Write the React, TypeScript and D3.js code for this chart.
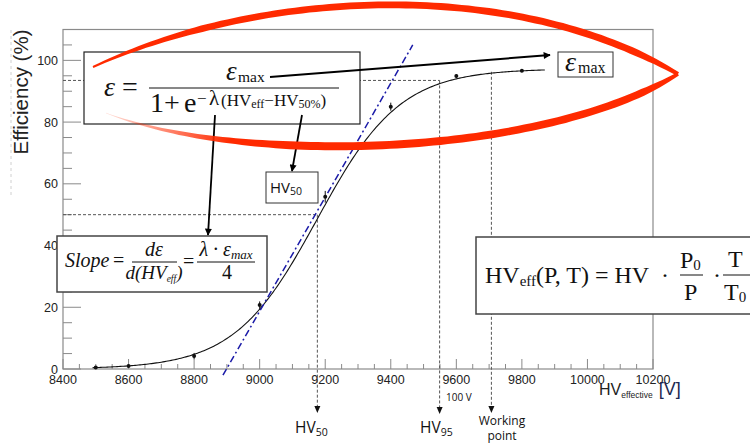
import React from "react";
import * as d3 from "d3";

// ---------- data ----------
const hvPoints = [8500, 8600, 8800, 9000, 9200, 9400, 9600, 9800];
const effPoints = [0.5, 1.0, 4.2, 20.7, 55.8, 85.0, 94.9, 96.6];
const effErrors = [0.3, 0.4, 1.0, 1.2, 1.9, 1.3, 0.6, 0.4];

const xTicks = [8400, 8600, 8800, 9000, 9200, 9400, 9600, 9800, 10000, 10200];
const yTicks = [0, 20, 40, 60, 80, 100];

// sigmoid fit shown in the chart
const fitEmax = 97.3;
const fitHv50 = 9176;
const fitLambda = 0.0079;
const fitRange = [8490, 9870];

// tangent (slope) line end points [HV, eff]
const tangentStart = [8888, -2];
const tangentEnd = [9467, 105];

// reference markers
const hv50 = 9176;
const eff50 = 50;
const hv95 = 9549;
const eff95 = 93.5;
const hvWorking = 9707;
const effWorking = 96.3;

// ---------- helpers ----------
type P = [number, number];
function cubic(p: P[], t: number): P {
  const u = 1 - t;
  return [
    u * u * u * p[0][0] + 3 * u * u * t * p[1][0] + 3 * u * t * t * p[2][0] + t * t * t * p[3][0],
    u * u * u * p[0][1] + 3 * u * u * t * p[1][1] + 3 * u * t * t * p[2][1] + t * t * t * p[3][1],
  ];
}
function cubicD(p: P[], t: number): P {
  const u = 1 - t;
  return [
    3 * u * u * (p[1][0] - p[0][0]) + 6 * u * t * (p[2][0] - p[1][0]) + 3 * t * t * (p[3][0] - p[2][0]),
    3 * u * u * (p[1][1] - p[0][1]) + 6 * u * t * (p[2][1] - p[1][1]) + 3 * t * t * (p[3][1] - p[2][1]),
  ];
}
function brush(p: P[], w: (t: number) => number, n = 90): string {
  const L: P[] = [];
  const R: P[] = [];
  for (let i = 0; i <= n; i++) {
    const t = i / n;
    const b = cubic(p, t);
    const d = cubicD(p, t);
    const len = Math.hypot(d[0], d[1]) || 1;
    const nx = -d[1] / len;
    const ny = d[0] / len;
    const hw = w(t) / 2;
    L.push([b[0] + nx * hw, b[1] + ny * hw]);
    R.push([b[0] - nx * hw, b[1] - ny * hw]);
  }
  const pts = L.concat(R.reverse());
  return "M" + pts.map((q) => q[0].toFixed(1) + "," + q[1].toFixed(1)).join("L") + "Z";
}

const W = 750;
const H = 447;

export default function App() {
  const x = d3.scaleLinear().domain([8400, 10200]).range([63, 653]);
  const y = d3.scaleLinear().domain([0, 110]).range([369, 29.5]);

  const fitLine = d3
    .line<number>()
    .x((v) => x(v))
    .y((v) => y(fitEmax / (1 + Math.exp(-fitLambda * (v - fitHv50)))))
    .curve(d3.curveLinear);
  const fitXs = d3.range(fitRange[0], fitRange[1] + 1, 5);

  const minorX = d3.range(8400, 10201, 50);
  const minorY = d3.range(0, 111, 5);

  const serif = "'Liberation Serif', 'Times New Roman', serif";
  const sans = "'Liberation Sans', Arial, sans-serif";
  const calib = "'Open Sans', 'Noto Sans', sans-serif";
  const dashCol = "#555";
  const axisCol = "#8a8a8a";

  const upperArc: P[] = [
    [93, 67],
    [260, -10],
    [510, -24],
    [678, 74],
  ];
  const lowerArc: P[] = [
    [106, 113],
    [240, 165],
    [538, 159],
    [678, 74],
  ];
  const upperW = (t: number) => (t < 0.2 ? 2 + (t / 0.2) * 4.5 : t > 0.92 ? 7 - ((t - 0.92) / 0.08) * 3 : 6.5 + (t - 0.2) * 0.7);
  const lowerW = (t: number) => (t < 0.35 ? 0.5 + (t / 0.35) * 7.5 : t > 0.92 ? 7.5 - ((t - 0.92) / 0.08) * 4 : 8 - (t - 0.35) * 1);

  const downArrow = (cx: number, tipY: number) => `M${cx - 3},${tipY - 7}L${cx + 3},${tipY - 7}L${cx},${tipY}Z`;

  return (
    <svg
      width={W}
      height={H}
      style={{ position: "absolute", left: 0, top: 0, background: "#fff" }}
      xmlns="http://www.w3.org/2000/svg"
    >
      <defs>
        <marker id="ah" viewBox="0 0 10 10" refX="9" refY="5" markerWidth="9" markerHeight="7" markerUnits="userSpaceOnUse" orient="auto">
          <path d="M0,0L10,5L0,10Z" fill="#000" />
        </marker>
        <linearGradient id="fadeL" gradientUnits="userSpaceOnUse" x1="106" y1="0" x2="230" y2="0">
          <stop offset="0" stopColor="#ff2a00" stopOpacity="0.15" />
          <stop offset="1" stopColor="#ff2a00" stopOpacity="1" />
        </linearGradient>
      </defs>

      {/* faint left guide */}
      <line x1={11} y1={30} x2={11} y2={195} stroke="#d0d0d0" strokeDasharray="3,3" />

      {/* frame */}
      <rect x={x(8400)} y={29.5} width={x(10200) - x(8400)} height={369 - 29.5} fill="none" stroke={axisCol} strokeWidth={1.2} />

      {/* y ticks */}
      {minorY.map((v) => (
        <line key={"my" + v} x1={x(8400)} x2={x(8400) + (v % 20 === 0 ? 18 : 9)} y1={y(v)} y2={y(v)} stroke={axisCol} strokeWidth={1} />
      ))}
      {yTicks.map((v) => (
        <text key={"yl" + v} x={58} y={y(v) + 4.5} textAnchor="end" fontFamily={sans} fontSize={12.5} fill="#222">
          {v}
        </text>
      ))}

      {/* x ticks */}
      {minorX.map((v) => (
        <line key={"mx" + v} x1={x(v)} x2={x(v)} y1={369} y2={369 - ((v - 8400) % 200 === 0 ? 10 : 5)} stroke={axisCol} strokeWidth={1} />
      ))}
      {xTicks.map((v) => (
        <text key={"xl" + v} x={x(v)} y={384} textAnchor="middle" fontFamily={sans} fontSize={12.5} fill="#222">
          {v}
        </text>
      ))}

      {/* axis titles */}
      <text transform="translate(28,92) rotate(-90)" textAnchor="middle" fontFamily={sans} fontSize={20.5} fill="#222">
        Efficiency (%)
      </text>
      <text x={599} y={395} fontFamily={sans} fontSize={16} fill="#222">
        HV
        <tspan fontSize={8.5} dy={3}>effective</tspan>
        <tspan fontSize={18} dy={-3} dx={6} fill="#1c2a52">[V]</tspan>
      </text>

      {/* dashed reference lines */}
      <g stroke={dashCol} strokeDasharray="3,2" strokeWidth={1} fill="none">
        <line x1={x(8400)} x2={x(hv50)} y1={y(eff50)} y2={y(eff50)} />
        <line x1={x(hv50)} x2={x(hv50)} y1={y(eff50)} y2={406} />
        <line x1={x(8400)} x2={x(hv95)} y1={y(eff95)} y2={y(eff95)} />
        <line x1={x(hv95)} x2={x(hv95)} y1={y(eff95)} y2={407} />
        <line x1={x(hvWorking)} x2={x(hvWorking)} y1={y(effWorking)} y2={406} />
      </g>
      <path d={downArrow(x(hv50), 413)} fill="#111" />
      <path d={downArrow(x(hv95), 414)} fill="#111" />
      <path d={downArrow(x(hvWorking), 413)} fill="#111" />

      {/* fit curve */}
      <path d={fitLine(fitXs) || ""} fill="none" stroke="#111" strokeWidth={1.1} />

      {/* tangent */}
      <line
        x1={x(tangentStart[0])}
        y1={y(tangentStart[1])}
        x2={x(tangentEnd[0])}
        y2={y(tangentEnd[1])}
        stroke="#1b1ba8"
        strokeWidth={1.5}
        strokeDasharray="7,3,2,3"
      />

      {/* data points */}
      {hvPoints.map((hv, i) => (
        <g key={"p" + hv}>
          <line x1={x(hv)} x2={x(hv)} y1={y(effPoints[i] - effErrors[i])} y2={y(effPoints[i] + effErrors[i])} stroke="#111" strokeWidth={1} />
          <circle cx={x(hv)} cy={y(effPoints[i])} r={2} fill="#111" />
        </g>
      ))}

      {/* labels under the axis */}
      <text x={295} y={433} fontFamily={calib} fontSize={15.5} fill="#111">
        HV<tspan fontSize={10.5} dy={3}>50</tspan>
      </text>
      <text x={420} y={433} fontFamily={calib} fontSize={15.5} fill="#111">
        HV<tspan fontSize={10.5} dy={3}>95</tspan>
      </text>
      <text x={446} y={401} fontFamily={calib} fontSize={10} fill="#111">
        100 V
      </text>
      <text x={502} y={425} textAnchor="middle" fontFamily={calib} fontSize={12} fill="#111">
        Working
      </text>
      <text x={502} y={440} textAnchor="middle" fontFamily={calib} fontSize={12} fill="#111">
        point
      </text>

      {/* main formula box */}
      <rect x={84} y={52} width={276} height={72} fill="#fff" stroke="#222" strokeWidth={1.2} />
      <text x={104} y={96} fontFamily={serif} fontSize={28} fontStyle="italic" fill="#111">ε</text>
      <text x={122} y={96} fontFamily={serif} fontSize={28} fill="#111">=</text>
      <line x1={149} x2={339} y1={88} y2={88} stroke="#111" strokeWidth={1} />
      <text x={226} y={80} fontFamily={serif} fontSize={27} fontStyle="italic" fill="#111">ε</text>
      <text x={238} y={82} fontFamily={serif} fontSize={15.5} fill="#111">max</text>
      <text x={150} y={112} fontFamily={serif} fontSize={28} fill="#111">1</text>
      <text x={164} y={112} fontFamily={serif} fontSize={28} fill="#111">+</text>
      <text x={184} y={112} fontFamily={serif} fontSize={28} fill="#111">e</text>
      <text x={197} y={104} fontFamily={serif} fontSize={17} fill="#111">−</text>
      <text x={209} y={105} fontFamily={serif} fontSize={21} fill="#111">λ</text>
      <text x={221} y={106} fontFamily={serif} fontSize={17} fill="#111">
        (HV<tspan fontSize={12} dy={2}>eff</tspan>
        <tspan dy={-2}>−HV</tspan>
        <tspan fontSize={12} dy={2}>50%</tspan>
        <tspan dy={-2}>)</tspan>
      </text>

      {/* eps_max box */}
      <rect x={558} y={52} width={55} height={25} fill="#fff" stroke="#333" strokeWidth={1} />
      <text x={565} y={71} fontFamily={serif} fontSize={28} fontStyle="italic" fill="#111">ε</text>
      <text x={578} y={73} fontFamily={serif} fontSize={16} fill="#111">max</text>

      {/* HV50 box */}
      <rect x={266} y={172} width={52} height={31} fill="#fff" stroke="#333" strokeWidth={1} />
      <text x={270} y={193} fontFamily={calib} fontSize={15} fill="#111">
        HV<tspan fontSize={10.5} dy={2}>50</tspan>
      </text>

      {/* slope box */}
      <rect x={57} y={236} width={210} height={56} fill="#fff" stroke="#444" strokeWidth={1.5} />
      <text x={65} y={267} fontFamily={serif} fontSize={20} fontStyle="italic" fill="#111">Slope</text>
      <text x={113} y={267} fontFamily={serif} fontSize={20} fill="#111">=</text>
      <text x={154} y={256} textAnchor="middle" fontFamily={serif} fontSize={20} fontStyle="italic" fill="#111">dε</text>
      <line x1={132} x2={177} y1={262} y2={262} stroke="#111" strokeWidth={1} />
      <text x={154} y={279} textAnchor="middle" fontFamily={serif} fontSize={19} fontStyle="italic" fill="#111">
        d(HV<tspan fontSize={9.5} dy={3}>eff</tspan>
        <tspan dy={-3}>)</tspan>
      </text>
      <text x={183} y={268} fontFamily={serif} fontSize={20} fill="#111">=</text>
      <text x={226} y={256} textAnchor="middle" fontFamily={serif} fontSize={20} fontStyle="italic" fill="#111">
        λ · ε<tspan fontSize={13} dy={3}>max</tspan>
      </text>
      <line x1={197} x2={255} y1={262} y2={262} stroke="#111" strokeWidth={1} />
      <text x={227} y={279} textAnchor="middle" fontFamily={serif} fontSize={20} fill="#111">4</text>

      {/* HV_eff box */}
      <rect x={476} y={237} width={290} height={77} fill="#fff" stroke="#444" strokeWidth={1.5} />
      <text x={485} y={283} fontFamily={serif} fontSize={24} fill="#111">
        HV<tspan fontSize={15} dy={3}>eff</tspan>
        <tspan dy={-3}>(P, T) = HV</tspan>
      </text>
      <text x={661} y={283} fontFamily={serif} fontSize={24} fill="#111">·</text>
      <text x={680} y={268} fontFamily={serif} fontSize={24} fill="#111">
        P<tspan fontSize={15} dy={2}>0</tspan>
      </text>
      <line x1={680} x2={703} y1={275} y2={275} stroke="#111" strokeWidth={1} />
      <text x={684} y={300} fontFamily={serif} fontSize={24} fill="#111">P</text>
      <text x={713} y={283} fontFamily={serif} fontSize={24} fill="#111">·</text>
      <text x={728} y={267} fontFamily={serif} fontSize={24} fill="#111">T</text>
      <line x1={723} x2={752} y1={275} y2={275} stroke="#111" strokeWidth={1} />
      <text x={724} y={300} fontFamily={serif} fontSize={24} fill="#111">
        T<tspan fontSize={15} dy={2}>0</tspan>
      </text>

      {/* annotation arrows */}
      <line x1={270} y1={77} x2={550} y2={55} stroke="#000" strokeWidth={2} markerEnd="url(#ah)" />
      <line x1={215} y1={115} x2={208} y2={235} stroke="#000" strokeWidth={1.8} markerEnd="url(#ah)" />
      <line x1={302} y1={115} x2={292} y2={171} stroke="#000" strokeWidth={1.8} markerEnd="url(#ah)" />

      {/* red hand-drawn highlight */}
      <path d={brush(upperArc, upperW)} fill="#ff2a00" />
      <path d={brush(lowerArc, lowerW)} fill="url(#fadeL)" />
    </svg>
  );
}
